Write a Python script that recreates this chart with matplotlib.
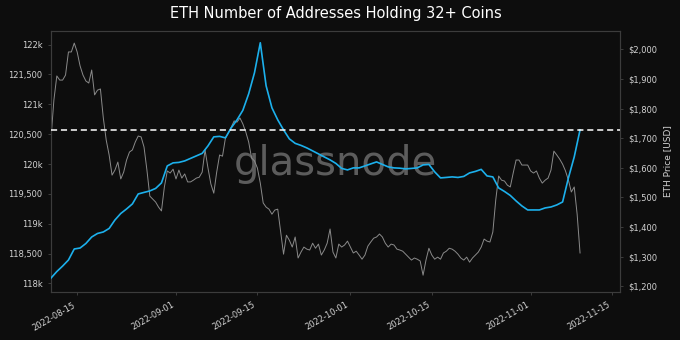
import matplotlib
matplotlib.use("Agg")
import matplotlib.pyplot as plt
import matplotlib.dates as mdates
import matplotlib.ticker as mticker
import numpy as np
import pandas as pd

# Data
addr_start = "2022-08-10 12:00"
addresses = [
    118089, 118198, 118290, 118391, 118576, 118592, 118668, 118777, 118836, 118861,
    118920, 119062, 119171, 119247, 119331, 119498, 119524, 119549, 119591, 119683,
    119968, 120019, 120027, 120052, 120094, 120136, 120178, 120304, 120455, 120463,
    120438, 120606, 120740, 120900, 121176, 121529, 122032, 121311, 120942, 120740,
    120572, 120421, 120346, 120312, 120270, 120220, 120170, 120119, 120069, 120010,
    119926, 119901, 119935, 119935, 119968, 120002, 120035, 119993, 119952, 119935,
    119930, 119918, 119926, 119935, 119985, 119993, 119868, 119767, 119775, 119784,
    119775, 119792, 119851, 119876, 119910, 119800, 119784, 119599, 119540, 119473,
    119381, 119297, 119230, 119230, 119230, 119264, 119280, 119314, 119364, 119767,
    120119, 120572,
]
price_start = "2022-08-10 12:00"
price = [
    1700, 1829, 1910, 1896, 1896, 1913, 1991, 1991, 2021, 1991,
    1944, 1913, 1893, 1886, 1930, 1846, 1862, 1866, 1768, 1693,
    1643, 1575, 1592, 1619, 1562, 1585, 1626, 1653, 1660, 1687,
    1707, 1704, 1670, 1592, 1504, 1494, 1484, 1467, 1454, 1535,
    1589, 1582, 1595, 1562, 1592, 1565, 1579, 1552, 1552, 1558,
    1565, 1568, 1585, 1660, 1599, 1545, 1514, 1585, 1643, 1639,
    1700, 1717, 1737, 1758, 1754, 1768, 1748, 1721, 1687, 1633,
    1623, 1599, 1548, 1481, 1467, 1460, 1443, 1457, 1460, 1383,
    1308, 1372, 1355, 1332, 1366, 1295, 1315, 1332, 1325, 1322,
    1345, 1328, 1342, 1305, 1322, 1345, 1393, 1315, 1295, 1342,
    1332, 1339, 1352, 1332, 1312, 1318, 1305, 1291, 1305, 1335,
    1349, 1362, 1366, 1376, 1366, 1345, 1332, 1342, 1339, 1325,
    1322, 1318, 1308, 1298, 1288, 1295, 1291, 1285, 1237, 1288,
    1328, 1305, 1291, 1298, 1291, 1312, 1318, 1328, 1325, 1318,
    1308, 1295, 1288, 1298, 1281, 1295, 1305, 1315, 1332, 1359,
    1352, 1349, 1383, 1491, 1572, 1558, 1555, 1541, 1535, 1582,
    1626, 1626, 1609, 1609, 1609, 1589, 1582, 1589, 1565, 1548,
    1558, 1565, 1592, 1656, 1643, 1629, 1612, 1589, 1558, 1518,
    1535, 1443, 1312,
]
latest_value = addresses[-1]

addr_time = pd.date_range(addr_start, periods=len(addresses), freq="D")
price_time = pd.date_range(price_start, periods=len(price), freq="12h")

bg = "#0d0d0d"
blue = "#1cb0ec"
txt = "#d2d2d2"

fig = plt.figure(figsize=(6.8, 3.4), dpi=100, facecolor=bg)
ax = fig.add_axes([0.075, 0.141, 0.837, 0.768])
ax2 = ax.twinx()

# price behind, addresses on top
ax.set_zorder(ax2.get_zorder() + 1)
ax.patch.set_visible(False)
ax2.set_facecolor(bg)

ax2.plot(price_time, price, color="#8a8a8a", lw=0.7, zorder=3)
ax2.text(0.5, 0.49, "glassnode", transform=ax2.transAxes, ha="center", va="center",
         fontsize=29, color="#5c5c5c", zorder=2)

ax.plot(addr_time, addresses, color=blue, lw=1.2, zorder=3)
ax.axhline(latest_value, color="white", ls=(0, (4, 2.5)), lw=1.1, zorder=4)

ax.set_xlim(pd.Timestamp(addr_start), pd.Timestamp(addr_start) + pd.Timedelta(days=97.9))
ax.set_ylim(117854, 122230)
ax2.set_ylim(1180, 2062)

ax.yaxis.set_major_locator(mticker.MultipleLocator(500))
ax.yaxis.set_major_formatter(mticker.FuncFormatter(
    lambda v, p: f"{int(v/1000)}k" if v % 1000 == 0 else f"{int(v):,}"))
ax2.yaxis.set_major_locator(mticker.MultipleLocator(100))
ax2.yaxis.set_major_formatter(mticker.FuncFormatter(lambda v, p: f"${int(v):,}"))

ax.xaxis.set_major_locator(mdates.DayLocator(bymonthday=[1, 15]))
ax.xaxis.set_major_formatter(mdates.DateFormatter("%Y-%m-%d"))
for lab in ax.get_xticklabels():
    lab.set_rotation(30)
    lab.set_ha("right")

for a in (ax, ax2):
    a.tick_params(colors=txt, labelsize=6, length=2.5, width=0.6)
    a.tick_params(axis="both", color="#444444")
    for s in a.spines.values():
        s.set_color("#3c3c3c")
        s.set_linewidth(0.8)

ax2.set_ylabel("ETH Price [USD]", color=txt, fontsize=6.5, labelpad=4)
ax.set_title("ETH Number of Addresses Holding 32+ Coins", color="white", fontsize=10.5, pad=9)

fig.savefig("out.png", dpi=100, facecolor=bg)
